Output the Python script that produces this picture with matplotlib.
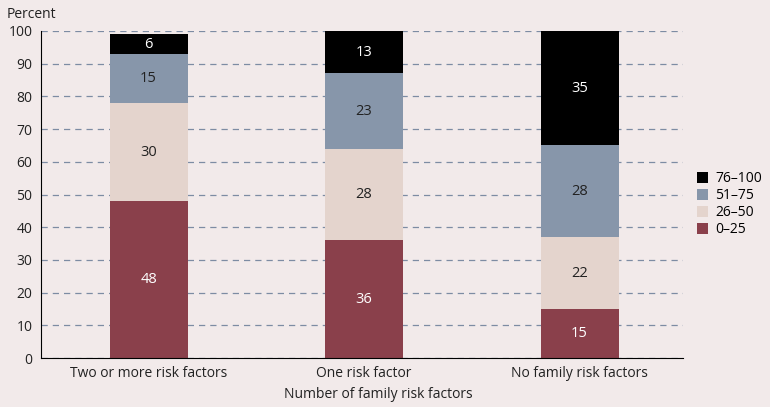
import matplotlib.pyplot as plt
import numpy as np

plt.rcParams['font.family'] = ['Open Sans', 'DejaVu Sans']

categories = ["Two or more risk factors", "One risk factor", "No family risk factors"]
series_names = ["0\u201325", "26\u201350", "51\u201375", "76\u2013100"]
values = {
    "0\u201325": [48, 36, 15],
    "26\u201350": [30, 28, 22],
    "51\u201375": [15, 23, 28],
    "76\u2013100": [6, 13, 35],
}
colors = ["#8A404B", "#E4D4CD", "#8796AA", "#000000"]
text_colors = ["white", "#222222", "#222222", "white"]

bg = "#F2EAEA"
fig = plt.figure(figsize=(7.7, 4.07), dpi=100, facecolor=bg)
ax = fig.add_axes([0.053, 0.12, 0.834, 0.804], facecolor=bg)

x = np.arange(len(categories))
bottom = np.zeros(len(categories))
bars = []
for name, c, tc in zip(series_names, colors, text_colors):
    v = np.array(values[name])
    b = ax.bar(x, v, width=0.362, bottom=bottom, color=c, label=name, zorder=3)
    bars.append(b)
    for xi, vi, bi in zip(x, v, bottom):
        ax.text(xi, bi + vi / 2, str(vi), ha="center", va="center",
                color=tc, fontsize=10.5, zorder=4)
    bottom += v

ax.set_xlim(-0.5, 2.48)
ax.set_ylim(0, 100)
ax.set_yticks(range(0, 101, 10))
ax.set_xticks(x)
ax.set_xticklabels(categories)
ax.tick_params(axis="both", length=0, labelsize=10, colors="#222222")
ax.tick_params(axis="y", pad=6)
ax.tick_params(axis="x", pad=6)
ax.yaxis.grid(True, linestyle=(0, (5, 4)), color="#7D8CA3", linewidth=0.9, zorder=0)
for s in ["top", "right"]:
    ax.spines[s].set_visible(False)
ax.spines["left"].set_color("black")
ax.spines["bottom"].set_color("black")
ax.spines["left"].set_zorder(5)
ax.spines["bottom"].set_zorder(5)

fig.text(0.491, 0.03, "Number of family risk factors", fontsize=10, color="#222222",
         ha="center", va="center")
fig.text(0.008, 0.965, "Percent", fontsize=10, color="#222222", va="center")

handles = bars[::-1]
leg = ax.legend(handles, series_names[::-1], loc="center left", bbox_to_anchor=(1.0, 0.47),
                frameon=False, fontsize=10, handlelength=0.8, handleheight=0.8,
                handletextpad=0.5, labelspacing=0.15, borderaxespad=0.6)

fig.savefig("out.png", dpi=100, facecolor=bg)
